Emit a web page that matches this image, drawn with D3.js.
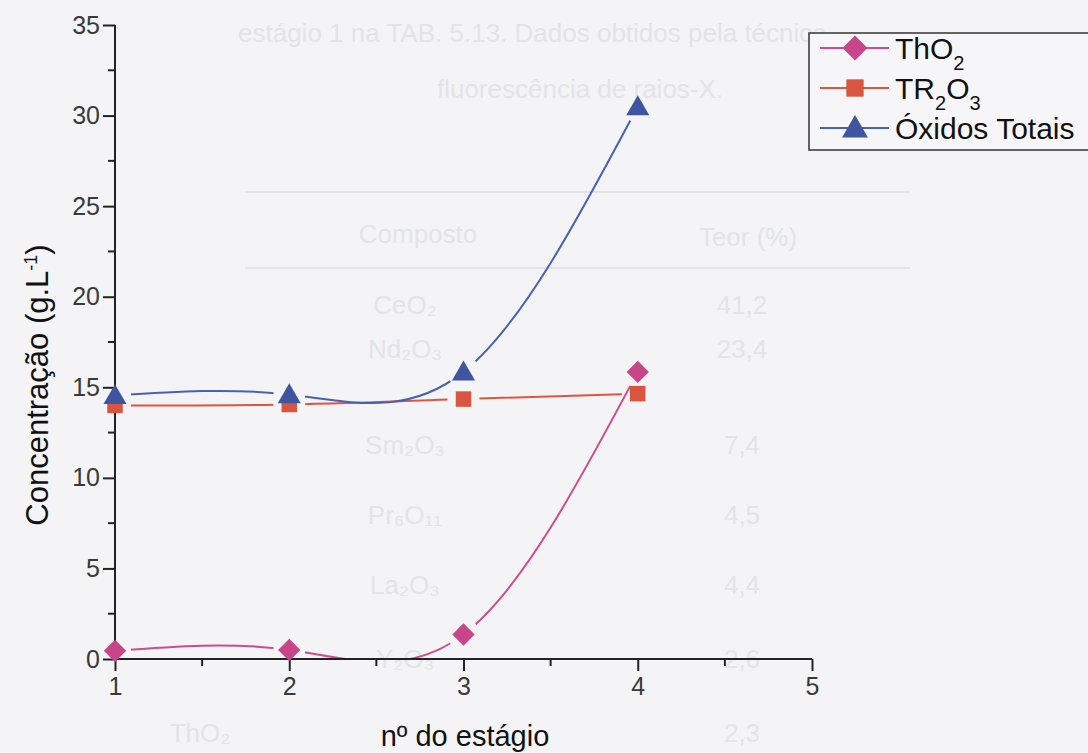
<!DOCTYPE html>
<html><head><meta charset="utf-8">
<script src="https://cdn.jsdelivr.net/npm/d3@7"></script>
<style>body{margin:0;background:#f4f4f6;}svg{display:block;font-family:"Liberation Sans",Arial,sans-serif;}</style>
</head><body>
<script>
const stages = [1, 2, 3, 4];
const thO2 = [0.45, 0.5, 1.35, 15.85];
const tr2O3 = [14.0, 14.05, 14.35, 14.65];
const oxidosTotais = [14.55, 14.6, 15.85, 30.5];
const xTicks = [1, 2, 3, 4, 5];
const yTicks = [0, 5, 10, 15, 20, 25, 30, 35];
const seriesNames = ["ThO2", "TR2O3", "Óxidos Totais"];
// faint bleed-through text of the scanned page
const ghostRows = [["CeO₂","41,2"],["Nd₂O₃","23,4"],["Sm₂O₃","7,4"],["Pr₆O₁₁","4,5"],["La₂O₃","4,4"],["Y₂O₃","2,6"],["ThO₂","2,3"]];

const W = 1088, H = 753;
const svg = d3.select("body").append("svg").attr("width", W).attr("height", H);
svg.append("rect").attr("width", W).attr("height", H).attr("fill", "#f4f4f6");

// ghost text
const g0 = svg.append("g").attr("fill", "#e3e3e9").attr("font-size", 26);
g0.append("text").attr("x", 238).attr("y", 42).text("estágio 1 na TAB. 5.13. Dados obtidos pela técnica");
g0.append("text").attr("x", 580).attr("y", 98).attr("text-anchor", "middle").text("fluorescência de raios-X.");
g0.append("line").attr("x1", 245).attr("x2", 910).attr("y1", 192).attr("y2", 192).attr("stroke", "#e3e3e9").attr("stroke-width", 2);
g0.append("line").attr("x1", 245).attr("x2", 910).attr("y1", 268).attr("y2", 268).attr("stroke", "#e3e3e9").attr("stroke-width", 2);
g0.append("text").attr("x", 418).attr("y", 243).attr("text-anchor", "middle").text("Composto");
g0.append("text").attr("x", 748).attr("y", 246).attr("text-anchor", "middle").text("Teor (%)");
const ghostY = [314, 358, 454, 524, 594, 668, 742];
const ghostX = [405, 405, 405, 405, 405, 405, 200];
ghostRows.forEach((r, i) => {
  g0.append("text").attr("x", ghostX[i]).attr("y", ghostY[i]).attr("text-anchor", "middle").text(r[0]);
  g0.append("text").attr("x", 742).attr("y", ghostY[i]).attr("text-anchor", "middle").text(r[1]);
});

const x = d3.scaleLinear().domain([1, 5]).range([115, 812]);
const y = d3.scaleLinear().domain([0, 35]).range([659, 25]);

const colors = { ThO2: "#cf4b8c", TR2O3: "#e0553f", Ox: "#4762b3" };
const markerColors = { ThO2: "#c8458a", TR2O3: "#d9553f", Ox: "#3f55a0" };

const defs = svg.append("defs");
defs.append("clipPath").attr("id", "plotclip").append("rect")
  .attr("x", 115).attr("y", 20).attr("width", 700).attr("height", 639);

const diamond = { draw(ctx, size) { const r = Math.sqrt(size / 2); ctx.moveTo(0, -r); ctx.lineTo(r, 0); ctx.lineTo(0, r); ctx.lineTo(-r, 0); ctx.closePath(); } };

const series = [
  { key: "ThO2", vals: thO2, shape: diamond, size: 250, dy: 0 },
  { key: "TR2O3", vals: tr2O3, shape: d3.symbolSquare, size: 240, dy: 0 },
  { key: "Ox", vals: oxidosTotais, shape: d3.symbolTriangle, size: 230, dy: 2 }
];

const line = d3.line().x((d, i) => x(stages[i])).y(d => y(d)).curve(d3.curveNatural);

series.forEach(s => {
  const m = defs.append("mask").attr("id", "mask-" + s.key).attr("maskUnits", "userSpaceOnUse")
    .attr("x", 0).attr("y", 0).attr("width", W).attr("height", H);
  m.append("rect").attr("width", W).attr("height", H).attr("fill", "white");
  s.vals.forEach((v, i) => m.append("circle").attr("cx", x(stages[i])).attr("cy", y(v)).attr("r", 16).attr("fill", "black"));
  svg.append("g").attr("clip-path", "url(#plotclip)").append("path")
    .attr("d", line(s.vals)).attr("fill", "none").attr("stroke", colors[s.key]).attr("stroke-width", 2)
    .attr("mask", "url(#mask-" + s.key + ")");
});

// axes
const xAxis = svg.append("g").attr("transform", "translate(0,659)")
  .call(d3.axisBottom(x).tickValues(xTicks).tickFormat(d3.format("d")).tickSize(12).tickPadding(6));
xAxis.append("g").selectAll("line").data([1.5, 2.5, 3.5, 4.5]).join("line")
  .attr("x1", d => x(d)).attr("x2", d => x(d)).attr("y1", 0).attr("y2", 7).attr("stroke", "#222").attr("stroke-width", 2);
const yAxis = svg.append("g").attr("transform", "translate(115,0)")
  .call(d3.axisLeft(y).tickValues(yTicks).tickSize(12).tickPadding(3));
yAxis.append("g").selectAll("line").data([2.5, 7.5, 12.5, 17.5, 22.5, 27.5, 32.5]).join("line")
  .attr("x1", 0).attr("x2", -7).attr("y1", d => y(d)).attr("y2", d => y(d)).attr("stroke", "#222").attr("stroke-width", 2);
[xAxis, yAxis].forEach(a => {
  a.attr("font-size", 25).attr("font-family", "'Liberation Sans',Arial,sans-serif");
  a.select(".domain").attr("stroke", "#222").attr("stroke-width", 2).attr("d", a === xAxis ? "M115,0H812" : "M0,659V25");
  a.selectAll(".tick line").attr("stroke", "#222").attr("stroke-width", 2);
  a.selectAll(".tick text").style("font-size", "25px").attr("fill", "#3a3a3a");
});

// markers
series.forEach(s => {
  svg.append("g").selectAll("path").data(s.vals).join("path")
    .attr("transform", (d, i) => `translate(${x(stages[i])},${y(d) + s.dy})`)
    .attr("d", d3.symbol().type(s.shape).size(s.size)).attr("fill", markerColors[s.key]);
});

// axis titles
svg.append("text").attr("x", 465).attr("y", 746).attr("text-anchor", "middle").attr("font-size", 29)
  .attr("fill", "#111").text("nº do estágio");
const yt = svg.append("text").attr("transform", "translate(48,385) rotate(-90)").attr("text-anchor", "middle")
  .attr("font-size", 31).attr("fill", "#111");
yt.append("tspan").text("Concentração (g.L");
yt.append("tspan").attr("dy", -11).attr("font-size", 18).text("-1");
yt.append("tspan").attr("dy", 11).text(")");

// legend
const lg = svg.append("g");
lg.append("rect").attr("x", 809).attr("y", 33).attr("width", 290).attr("height", 117)
  .attr("fill", "#f6f6f8").attr("stroke", "#333").attr("stroke-width", 1.5);
const legendY = [48, 88, 128];
series.forEach((s, i) => {
  const ly = legendY[i];
  lg.append("line").attr("x1", 820).attr("x2", 889).attr("y1", ly).attr("y2", ly)
    .attr("stroke", colors[s.key]).attr("stroke-width", 2);
  lg.append("path").attr("transform", `translate(855,${ly + s.dy})`)
    .attr("d", d3.symbol().type(s.shape).size(s.size + 60)).attr("fill", markerColors[s.key]);
  const t = lg.append("text").attr("x", 895).attr("y", ly + 11).attr("font-size", 30).attr("fill", "#111");
  if (i === 0) {
    t.append("tspan").text("ThO");
    t.append("tspan").attr("dy", 11).attr("font-size", 20).text("2");
  } else if (i === 1) {
    t.append("tspan").text("TR");
    t.append("tspan").attr("dy", 11).attr("font-size", 20).text("2");
    t.append("tspan").attr("dy", -11).text("O");
    t.append("tspan").attr("dy", 11).attr("font-size", 20).text("3");
  } else {
    t.text(seriesNames[2]);
  }
});
</script>
</body></html>
